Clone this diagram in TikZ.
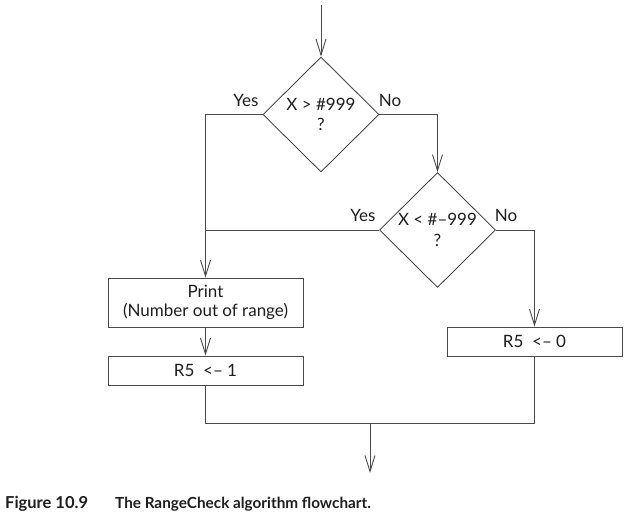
\documentclass[tikz,border=0pt]{standalone}
\usepackage{fontspec}
\setmainfont{Lato}
\usetikzlibrary{shapes.geometric,arrows.meta}
\definecolor{linecol}{HTML}{4A4A4A}
\definecolor{txtcol}{HTML}{1E1E1E}
\begin{document}
\begin{tikzpicture}[x=1pt,y=-1pt,
  every node/.style={text=txtcol,font=\fontsize{17}{19}\selectfont},
  conn/.style={draw=linecol,line width=0.9pt},
  arr/.style={conn,-{Straight Barb[length=16pt,width=10pt,line width=0.9pt]}},
  decision/.style={diamond,draw=linecol,line width=0.9pt,inner sep=0pt,
    minimum width=116pt,minimum height=115pt,align=center,
    font=\fontsize{17}{20.5}\selectfont},
  procbox/.style={rectangle,draw=linecol,line width=0.9pt,inner sep=0pt,align=center},
  lab/.style={inner sep=0pt}]
\useasboundingbox (0,0) rectangle (627,519);
\coordinate (start) at (321,5);
\node[decision] (d1) at (321,114.5) {X > \#999\\?};
\node[decision] (d2) at (437.5,230) {X < \#–999\\?};
\node[procbox,minimum width=195pt,minimum height=49pt] (print) at (205.5,302.5) {Print\\(Number out of range)};
\node[procbox,minimum width=195pt,minimum height=29pt] (r51) at (205.5,370.5) {R5\ \ <-- 1};
\node[procbox,minimum width=175pt,minimum height=29pt] (r50) at (534.5,341.5) {R5\ \ <-- 0};
\coordinate (j1) at (205,230);
\coordinate (m) at (370,423);
\coordinate (endp) at (370,473);

\draw[arr] (start) -- (d1.north);
\draw[arr] (d1.west) -| (print.north);
\draw[conn] (d2.west) -- (j1);
\draw[arr] (d1.east) -| (d2.north);
\draw[arr] (d2.east) -| (r50.north);
\draw[arr] (print.south) -- (r51.north);
\draw[conn] (r51.south) |- (m);
\draw[conn] (r50.south) |- (m);
\draw[arr] (m) -- (endp);

\node[lab] (y1) at (246,100) {Yes};
\node[lab] (n1) at (390,100) {No};
\node[lab] (y2) at (363,215) {Yes};
\node[lab] (n2) at (506,215) {No};

\node[lab,anchor=base west,font=\fontsize{16.5}{18}\selectfont\bfseries] (fig) at (5,508) {Figure 10.9};
\node[lab,anchor=base west,font=\fontsize{15.3}{18}\selectfont\bfseries] (cap) at (115,508) {The RangeCheck algorithm flowchart.};
\end{tikzpicture}
\end{document}
